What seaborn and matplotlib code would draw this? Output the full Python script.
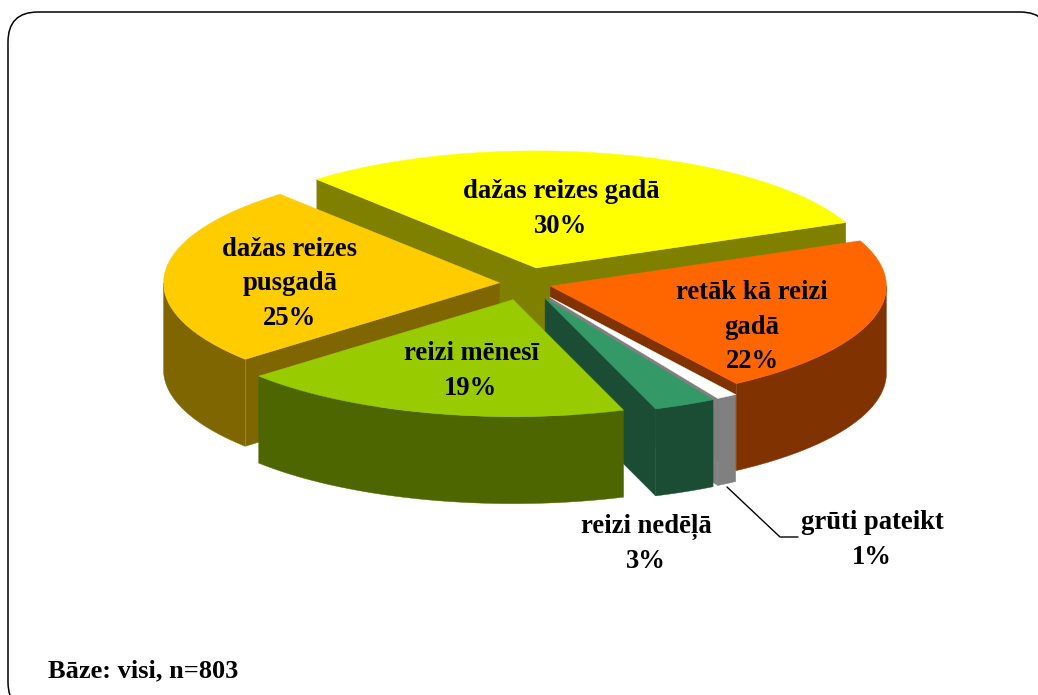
import numpy as np
import matplotlib
matplotlib.use('Agg')
import matplotlib.pyplot as plt
from matplotlib.patches import FancyBboxPatch
import seaborn as sns

# data, clockwise from the back left
names = ['dažas reizes gadā', 'retāk kā reizi\ngadā', 'grūti pateikt', 'reizi nedēļā', 'reizi mēnesī', 'dažas reizes\npusgadā']
values = [30, 22, 1, 3, 19, 25]
colors = ['#FFFF00', '#FF6600', '#FFFFFF', '#339966', '#99CC00', '#FFCC00']
base_note = 'Bāze: visi, n=803'

# pie geometry in pixels
explode = [46, 26, 46, 47, 48, 26]
cx, cy = 525.5, 283.5
rx, ry = 336, 117
depth = 87
start = 130.8
label_xy = [(561, 209), (752, 327), (872, 540), (646, 544), (471, 371), (290, 284)]
draw_order = [0, 5, 1, 2, 3, 4]

sns.set_theme(style='white')
plt.rcParams['font.family'] = ['Liberation Serif', 'DejaVu Serif']
palette = sns.color_palette(colors)

fig = plt.figure(figsize=(10.38, 6.95), dpi=100)
ax = fig.add_axes([0, 0, 1, 1])
ax.set_xlim(0, 1038)
ax.set_ylim(695, 0)
ax.axis('off')

# rounded frame, runs off the right and bottom
ax.add_patch(FancyBboxPatch((8, 12), 1042, 700, boxstyle='round,pad=0,rounding_size=30',
                            fc='white', ec='black', lw=1.1, zorder=0))

# slice angles from the values
sweep = np.array(values) / sum(values) * 360
a1 = start - np.concatenate([[0], np.cumsum(sweep)[:-1]])
a2 = a1 - sweep


def arc(x0, y0, t1, t2):
    t = np.radians(np.linspace(t1, t2, 80))
    return x0 + rx * np.cos(t), y0 - ry * np.sin(t)


for i in draw_order:
    mid = np.radians((a1[i] + a2[i]) / 2)
    x0 = cx + explode[i] * np.cos(mid)
    y0 = cy - explode[i] * ry / rx * np.sin(mid)
    top = palette[i]
    side = tuple(c * 0.5 for c in top)

    # radial walls that face the viewer
    for ang, visible in [(a1[i], np.cos(np.radians(a1[i])) < 0), (a2[i], np.cos(np.radians(a2[i])) > 0)]:
        if visible:
            ex, ey = arc(x0, y0, ang, ang)
            ax.fill([x0, ex[0], ex[0], x0], [y0, ey[0], ey[0] + depth, y0 + depth],
                    color=side, lw=0.3, zorder=2)
            ax.plot([ex[0], ex[0]], [ey[0], ey[0] + depth], color=(1, 1, 1, 0.35), lw=0.8, zorder=2)

    # outer rim, front half only
    for k in [-1, 0, 1]:
        lo = max(a2[i], 180 + 360 * (k - 1))
        hi = min(a1[i], 360 + 360 * (k - 1))
        if hi > lo:
            xs, ys = arc(x0, y0, lo, hi)
            ax.fill(np.r_[xs, xs[::-1]], np.r_[ys, ys[::-1] + depth], color=side, lw=0.3, zorder=2)

    xs, ys = arc(x0, y0, a1[i], a2[i])
    ax.fill(np.r_[x0, xs], np.r_[y0, ys], color=top, lw=0.3, zorder=2)

# leader for the smallest slice
ax.plot([727, 780, 798], [487, 537, 537], color='black', lw=1, zorder=3)

for name, v, (tx, ty) in zip(names, values, label_xy):
    ax.text(tx, ty, f'{name}\n{v}%', ha='center', va='center', fontsize=19.2, fontweight='bold',
            color='black', linespacing=1.5, zorder=4)

ax.text(48, 671, base_note, ha='left', va='center', fontsize=19, fontweight='bold', color='black', zorder=4)

fig.savefig('out.png', dpi=100)
